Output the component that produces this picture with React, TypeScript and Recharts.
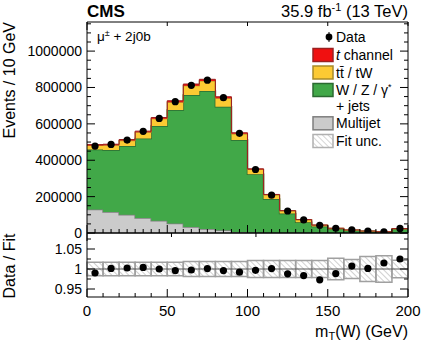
import React from "react";
import {
  Area,
  ComposedChart,
  ReferenceArea,
  ReferenceLine,
  Scatter,
  XAxis,
  YAxis
} from "recharts";

const FONT = "'Liberation Sans', Arial, Helvetica, sans-serif";

const binLow = [0, 10, 20, 30, 40, 50, 60, 70, 80, 90, 100, 110, 120, 130, 140, 150, 160, 170, 180, 190];
const multijet = [129000, 116000, 101000, 83000, 68000, 52000, 33000, 22000, 15000, 6000, 3000, 2000, 1500, 1000, 800, 600, 500, 400, 300, 300];
const wJets = [330000, 340000, 377000, 437000, 520000, 624000, 726000, 759000, 679000, 505000, 320000, 185000, 105500, 58000, 35200, 20700, 13300, 8200, 4900, 19800];
const ttbar = [22000, 27000, 30000, 34000, 40000, 43000, 51000, 55000, 47000, 34000, 26000, 22000, 14000, 13500, 7000, 4200, 2500, 2000, 900, 3600];
const tChannel = [5000, 5000, 6000, 6000, 7000, 8000, 9000, 9000, 8000, 6000, 4000, 3000, 2000, 1500, 1000, 800, 600, 400, 300, 700];
const dataCounts = [478000, 487000, 511000, 559000, 630000, 722000, 812000, 840000, 744000, 548000, 349000, 208000, 121000, 72000, 42400, 26000, 17000, 11000, 6500, 25000];

const ratio = [0.99, 1.0015, 1.0025, 1.004, 1.0, 0.996, 0.9975, 1.001, 0.996, 0.992, 0.9966, 1.001, 0.988, 0.9835, 0.973, 0.9885, 1.0074, 1.0015, 1.015, 1.025];
const fitUnc = [0.017, 0.017, 0.017, 0.017, 0.017, 0.017, 0.019, 0.019, 0.019, 0.019, 0.021, 0.021, 0.021, 0.021, 0.021, 0.027, 0.024, 0.031, 0.033, 0.022];

const xMajor = [0, 50, 100, 150, 200];
const yMajor = [0, 200000, 400000, 600000, 800000, 1000000];
const rMajor = [0.95, 1, 1.05];
const rLabels = ["0.95", "1", "1.05"];

const xMinorMain = Array.from({ length: 41 }, (_, i) => i * 5);
const xMinorRatio = Array.from({ length: 21 }, (_, i) => i * 10);
const yMinorMain = Array.from({ length: 24 }, (_, i) => i * 50000);
const rMinor = [0.95, 0.975, 1, 1.025, 1.05, 1.075];

const BIN = 10;
const histRows = binLow.map((x, i) => ({ x, mj: multijet[i], w: wJets[i], tt: ttbar[i], tch: tChannel[i] }));
histRows.push({ ...histRows[histRows.length - 1], x: 200 });
const dataPts = binLow.map((x, i) => ({ x: x + BIN / 2, y: dataCounts[i] }));
const ratioPts = binLow.map((x, i) => ({ x: x + BIN / 2, r: ratio[i] }));

const near = (v: number, list: number[]) => list.some((m) => Math.abs(m - v) < 1e-6);

function tick(side: "bottom" | "top" | "left" | "right", majors: number[], fmt?: (v: number) => string, fontSize = 14) {
  return (p: any) => {
    const v = p.payload.value;
    const major = near(v, majors);
    const len = major ? 8 : 4;
    const { x, y } = p;
    // stray ticks outside the frame are dropped
    if (x < 80 || x > 412) return <g />;
    let l;
    if (side === "bottom") l = { x1: x, x2: x, y1: y, y2: y - len };
    else if (side === "top") l = { x1: x, x2: x, y1: y, y2: y + len };
    else if (side === "left") l = { x1: x, x2: x + len, y1: y, y2: y };
    else l = { x1: x, x2: x - len, y1: y, y2: y };
    let label = null;
    if (fmt && major) {
      label =
        side === "bottom" ? (
          <text x={x} y={y + 19} textAnchor="middle" fontSize={fontSize} fontFamily={FONT} fill="#000">
            {fmt(v)}
          </text>
        ) : (
          <text x={x - 5} y={y + 5} textAnchor="end" fontSize={fontSize} fontFamily={FONT} fill="#000">
            {fmt(v)}
          </text>
        );
    }
    return (
      <g>
        <line {...l} stroke="#000" strokeWidth={1} />
        {label}
      </g>
    );
  };
}

const frame = { stroke: "#000", strokeWidth: 1 };
const axisCommon = { interval: 0 as const, tickSize: 0, tickMargin: 0, axisLine: frame, tickLine: false, allowDataOverflow: true };

function MainPanel() {
  return (
    <ComposedChart width={425} height={343} data={histRows} margin={{ top: 21, right: 16, bottom: 109, left: 86 }}>
      <XAxis dataKey="x" type="number" domain={[0, 200]} ticks={xMinorMain} height={1} {...axisCommon} tick={tick("bottom", xMajor)} />
      <XAxis xAxisId="top" orientation="top" type="number" domain={[0, 200]} ticks={xMinorMain} height={1} {...axisCommon} tick={tick("top", xMajor)} />
      <YAxis type="number" domain={[0, 1160000]} ticks={yMinorMain} width={1} {...axisCommon} tick={tick("left", yMajor, (v) => String(v))} />
      <YAxis yAxisId="r" orientation="right" type="number" domain={[0, 1160000]} ticks={yMinorMain} width={1} {...axisCommon} tick={tick("right", yMajor)} />
      <Area type="stepAfter" dataKey="mj" stackId="s" fill="#cbcbcb" fillOpacity={1} stroke="#7f7f7f" strokeWidth={1.5} isAnimationActive={false} />
      <Area type="stepAfter" dataKey="w" stackId="s" fill="#41a848" fillOpacity={1} stroke="#2b6a30" strokeWidth={1.5} isAnimationActive={false} />
      <Area type="stepAfter" dataKey="tt" stackId="s" fill="#fcca33" fillOpacity={1} stroke="#a78a2a" strokeWidth={1.2} isAnimationActive={false} />
      <Area type="stepAfter" dataKey="tch" stackId="s" fill="#f01010" fillOpacity={1} stroke="#9a2020" strokeWidth={1} isAnimationActive={false} />
      <Scatter data={dataPts} dataKey="y" fill="#000" shape={(p: any) => <circle cx={p.cx} cy={p.cy} r={3.6} fill="#000" />} isAnimationActive={false} />
    </ComposedChart>
  );
}

function RatioPanel() {
  return (
    <ComposedChart width={425} height={343} data={ratioPts} margin={{ top: 232, right: 16, bottom: 45, left: 86 }}>
      <defs>
        <pattern id="hatchR" width="4" height="4" patternUnits="userSpaceOnUse" patternTransform="rotate(-45)">
          <line x1="0" y1="0" x2="0" y2="4" stroke="#b0b0b0" strokeWidth="1.2" />
        </pattern>
      </defs>
      <XAxis dataKey="x" type="number" domain={[0, 200]} ticks={xMinorRatio} height={1} {...axisCommon} tick={tick("bottom", xMajor, (v) => String(v), 15)} />
      <XAxis xAxisId="top" orientation="top" type="number" domain={[0, 200]} ticks={xMinorMain} height={1} {...axisCommon} tick={tick("top", xMajor)} />
      <YAxis type="number" domain={[0.93, 1.09]} ticks={rMinor} width={1} {...axisCommon} tick={tick("left", rMajor, (v) => rLabels[rMajor.findIndex((m) => Math.abs(m - v) < 1e-6)])} />
      <YAxis yAxisId="r" orientation="right" type="number" domain={[0.93, 1.09]} ticks={rMinor} width={1} {...axisCommon} tick={tick("right", rMajor)} />
      {binLow.map((x, i) => (
        <ReferenceArea key={x} x1={x} x2={x + BIN} y1={1 - fitUnc[i]} y2={1 + fitUnc[i]} fill="url(#hatchR)" fillOpacity={1} stroke="#a0a0a0" strokeWidth={1.5} />
      ))}
      <ReferenceLine y={1} stroke="#555" strokeWidth={1} />
      <Scatter dataKey="r" fill="#000" shape={(p: any) => <circle cx={p.cx} cy={p.cy} r={3.6} fill="#000" />} isAnimationActive={false} />
    </ComposedChart>
  );
}

function Overlay() {
  const lx = 313;
  const tx = 336;
  const box = (y: number, fill: string, stroke: string) => (
    <rect x={lx} y={y - 6.5} width={20} height={13} fill={fill} stroke={stroke} strokeWidth={1.5} />
  );
  const t = { fontFamily: FONT, fontSize: 14, fill: "#000" };
  return (
    <svg width={425} height={343} style={{ position: "absolute", left: 0, top: 0, pointerEvents: "none" }}>
      <defs>
        <pattern id="hatchL" width="4" height="4" patternUnits="userSpaceOnUse" patternTransform="rotate(-45)">
          <line x1="0" y1="0" x2="0" y2="4" stroke="#b8b8b8" strokeWidth="1.2" />
        </pattern>
      </defs>
      <text x={87} y={17} fontFamily={FONT} fontWeight="bold" fontSize={17}>CMS</text>
      <text x={408} y={17} textAnchor="end" fontFamily={FONT} fontSize={16.5}>
        35.9 fb<tspan dy={-6} fontSize={11}>-1</tspan>
        <tspan dy={6}> (13 TeV)</tspan>
      </text>
      <text x={97} y={41} fontFamily={FONT} fontSize={13.5}>
        μ<tspan dy={-5} fontSize={9}>±</tspan>
        <tspan dy={5}> + 2j0b</tspan>
      </text>
      <text transform="translate(15,22) rotate(-90)" textAnchor="end" fontFamily={FONT} fontSize={16}>Events / 10 GeV</text>
      <text transform="translate(15,266) rotate(-90)" textAnchor="middle" fontFamily={FONT} fontSize={16}>Data / Fit</text>
      <text x={408} y={337} textAnchor="end" fontFamily={FONT} fontSize={16}>
        m<tspan dy={3} fontSize={11}>T</tspan>
        <tspan dy={-3}>(W) (GeV)</tspan>
      </text>

      <line x1={329} x2={329} y1={32} y2={42} stroke="#000" strokeWidth={1} />
      <circle cx={329} cy={37} r={3.4} fill="#000" />
      <text x={tx} y={42} {...t}>Data</text>
      {box(55, "#f01010", "#9a2020")}
      <text x={tx} y={60} {...t}><tspan fontStyle="italic">t</tspan> channel</text>
      {box(72.5, "#fcca33", "#a78a2a")}
      <text x={tx} y={77.5} {...t}>t{"t\u0304"} / tW</text>
      {box(90, "#41a848", "#2b6a30")}
      <text x={tx} y={95} {...t}>W / Z / γ<tspan dy={-5} fontSize={9}>*</tspan></text>
      <text x={tx} y={111} {...t}>+ jets</text>
      {box(123.3, "#cbcbcb", "#7f7f7f")}
      <text x={tx} y={128.3} {...t}>Multijet</text>
      {box(141, "url(#hatchL)", "#b0b0b0")}
      <text x={tx} y={146} {...t}>Fit unc.</text>
    </svg>
  );
}

export default function App() {
  return (
    <div style={{ position: "absolute", left: 0, top: 0, width: 425, height: 343, background: "#fff" }}>
      <div style={{ position: "absolute", left: 0, top: 0 }}>
        <MainPanel />
      </div>
      <div style={{ position: "absolute", left: 0, top: 0 }}>
        <RatioPanel />
      </div>
      <Overlay />
    </div>
  );
}
